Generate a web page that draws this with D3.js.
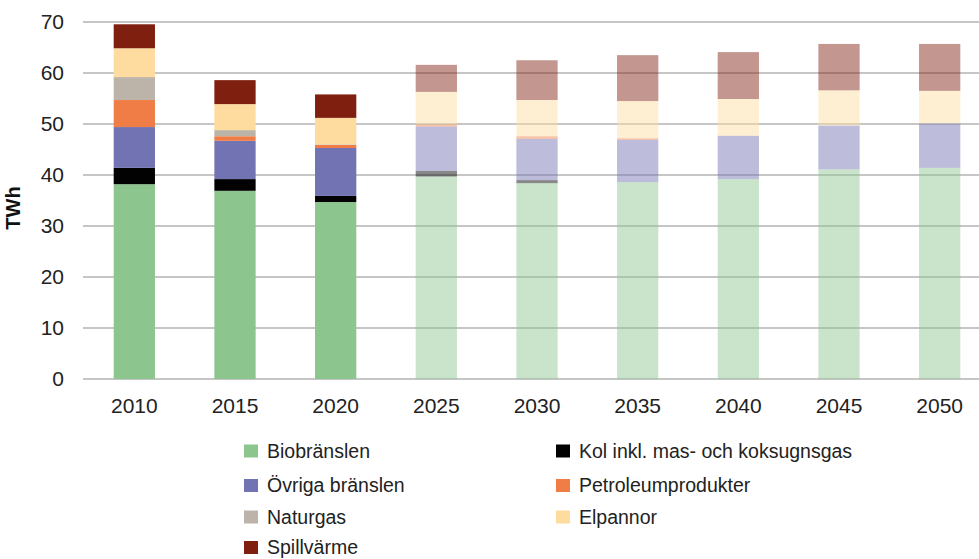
<!DOCTYPE html>
<html><head><meta charset="utf-8">
<script src="https://cdn.jsdelivr.net/npm/d3@7"></script>
<style>body{margin:0;background:#fff}svg{display:block;font-family:"Liberation Sans",Arial,sans-serif}</style>
</head><body><div id="chart"></div>
<script>
const years = ["2010","2015","2020","2025","2030","2035","2040","2045","2050"];
const projected = [false,false,false,true,true,true,true,true,true];
const seriesNames = ["Biobränslen","Kol inkl. mas- och koksugnsgas","Övriga bränslen","Petroleumprodukter","Naturgas","Elpannor","Spillvärme"];
const seriesColors = ["#8dc58e","#020202","#7273b3","#ef7d45","#bcb4a8","#fedca0","#7f1f10"];
const biobranslen = [38.2,36.9,34.7,39.7,38.4,38.6,39.2,41.1,41.4];
const kol = [3.2,2.3,1.2,1.1,0.6,0,0,0,0];
const ovriga = [8.0,7.5,9.4,8.7,8.1,8.3,8.5,8.6,8.7];
const petroleum = [5.3,0.9,0.6,0.4,0.5,0.3,0,0,0];
const naturgas = [4.5,1.2,0.1,0,0,0,0,0,0];
const elpannor = [5.65,5.1,5.2,6.4,7.1,7.3,7.2,6.9,6.4];
const spillvarme = [4.7,4.7,4.6,5.3,7.8,9.0,9.2,9.1,9.2];
const yTicks = [0,10,20,30,40,50,60,70];
const legendOrder = ["Biobränslen","Kol inkl. mas- och koksugnsgas","Övriga bränslen","Petroleumprodukter","Naturgas","Elpannor","Spillvärme"];

const W = 979, H = 559;
const svg = d3.select("#chart").append("svg").attr("width", W).attr("height", H);
const rows = years.map((y,i)=>({year:y, proj:projected[i],
  [seriesNames[0]]:biobranslen[i],[seriesNames[1]]:kol[i],[seriesNames[2]]:ovriga[i],
  [seriesNames[3]]:petroleum[i],[seriesNames[4]]:naturgas[i],[seriesNames[5]]:elpannor[i],[seriesNames[6]]:spillvarme[i]}));
const stack = d3.stack().keys(seriesNames)(rows);

const x = d3.scaleBand().domain(years).range([84, 990]).paddingInner(0.59).paddingOuter(0.295);
const y = d3.scaleLinear().domain([0,70]).range([379, 22]);
const color = d3.scaleOrdinal().domain(seriesNames).range(seriesColors);

// gridlines
svg.append("g").selectAll("line").data(yTicks).join("line")
  .attr("x1", 83).attr("x2", W).attr("y1", d=>y(d)).attr("y2", d=>y(d))
  .attr("stroke", "#b3b3b3").attr("stroke-width", 1.3);

// y labels
svg.append("g").selectAll("text").data(yTicks).join("text")
  .attr("x", 64).attr("y", d=>y(d)).attr("dy","0.35em").attr("text-anchor","end")
  .attr("font-size", 21).attr("fill","#222").text(d=>d);

svg.append("text").attr("transform","translate(20,208) rotate(-90)")
  .attr("text-anchor","middle").attr("font-size",20).attr("font-weight","bold").attr("fill","#111").text("TWh");

// bars
svg.append("g").selectAll("g").data(stack).join("g")
  .attr("fill", d=>color(d.key))
  .selectAll("rect").data(d=>d.filter(p=>p[1]-p[0]>0)).join("rect")
  .attr("x", d=>x(d.data.year)).attr("width", x.bandwidth())
  .attr("y", d=>y(d[1])).attr("height", d=>y(d[0])-y(d[1]))
  .attr("opacity", d=>d.data.proj ? 0.47 : 1);

// x labels
svg.append("g").selectAll("text").data(years).join("text")
  .attr("x", d=>x(d)+x.bandwidth()/2).attr("y", 406).attr("dy","0.35em").attr("text-anchor","middle")
  .attr("font-size", 21).attr("fill","#222").text(d=>d);

// legend
const legRowsY = [451, 485.5, 517, 547.5];
const lg = svg.append("g");
legendOrder.forEach((name,i)=>{
  const col = i%2, row = Math.floor(i/2);
  const lx = col===0 ? 244 : 556;
  const ly = legRowsY[row];
  lg.append("rect").attr("x", lx).attr("y", ly-6.5).attr("width", 14).attr("height", 13).attr("fill", color(name));
  lg.append("text").attr("x", lx+23).attr("y", ly).attr("dy","0.35em").attr("font-size",19.5).attr("fill","#222").text(name);
});
</script></body></html>
